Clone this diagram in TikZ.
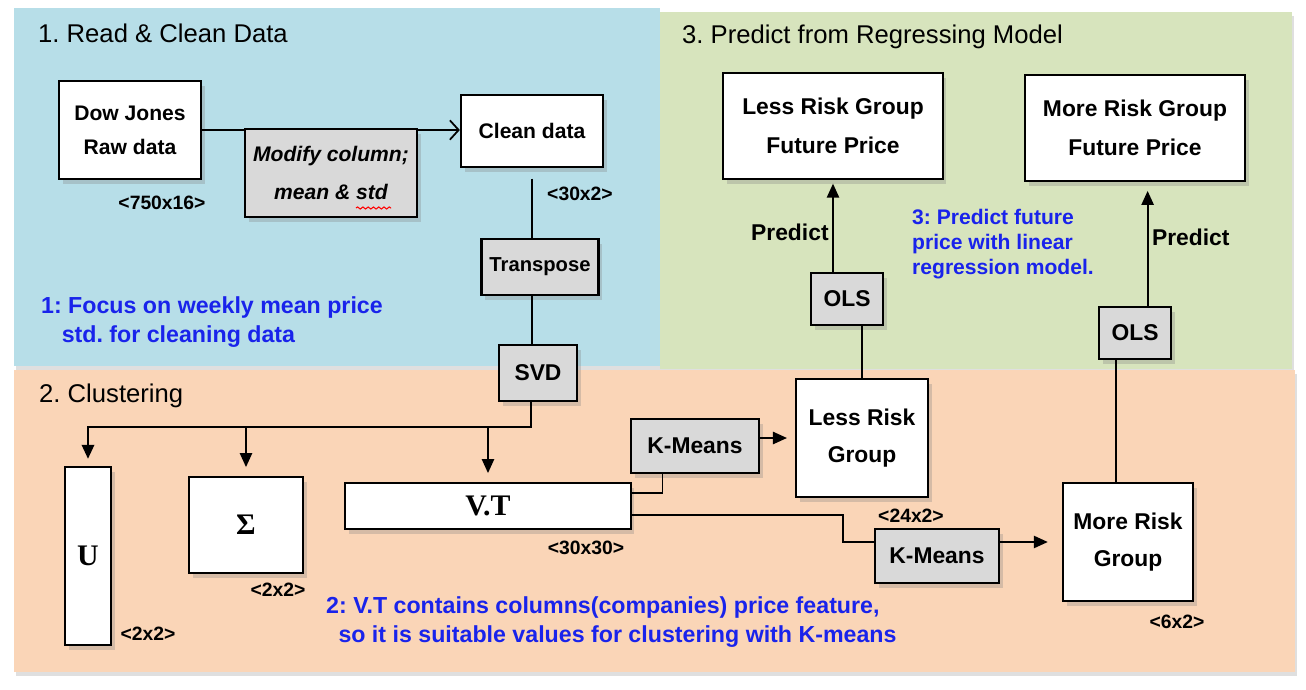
\documentclass[tikz,border=0pt]{standalone}
\usepackage{fontspec}
\setmainfont{Liberation Serif}
\setsansfont{Liberation Sans}
\usepackage{tikz}
\usetikzlibrary{arrows.meta, shadows, calc, decorations.pathmorphing}
\frenchspacing

\definecolor{panelblue}{HTML}{B7DEE8}
\definecolor{panelgreen}{HTML}{D7E4BD}
\definecolor{panelorange}{HTML}{FAD5B7}
\definecolor{boxgray}{HTML}{D9D9D9}
\definecolor{noteblue}{RGB}{25,35,235}

\begin{document}
\begin{tikzpicture}[x=0.02cm, y=-0.02cm,
    panel/.style={drop shadow={shadow xshift=1pt, shadow yshift=-2pt, opacity=.25}},
    box/.style={draw, line width=1.3pt, fill=white, inner sep=0pt, align=center,
        font=\sffamily\bfseries\fontsize{13}{22}\selectfont,
        drop shadow={shadow xshift=2pt, shadow yshift=-3pt, opacity=.3}},
    smallbox/.style={box, font=\sffamily\bfseries\fontsize{12}{19.5}\selectfont},
    opbox/.style={box, fill=boxgray},
    matbox/.style={box, font=\rmfamily\bfseries\fontsize{17}{19}\selectfont},
    dims/.style={font=\sffamily\bfseries\fontsize{11}{13}\selectfont},
    note/.style={text=noteblue, align=left, anchor=west,
        font=\sffamily\bfseries\fontsize{13.2}{16.8}\selectfont},
    title/.style={anchor=base west, font=\sffamily\fontsize{14.6}{16}\selectfont},
    link/.style={line width=1pt},
    arr/.style={link, -{Triangle[length=8pt,width=7pt]}},
]
    \useasboundingbox (0,0) rectangle (1306,690);

    % 1. Read & clean data
    \fill[panelblue, panel] (14,8) rectangle (660,366);
    \node[title] (t1) at (32,42) {1. Read \& Clean Data};

    \node[smallbox, minimum width=2.84cm, minimum height=1.96cm] (dow) at (130,130) {Dow Jones\\Raw data};
    \node[smallbox, minimum width=2.84cm, minimum height=1.44cm] (clean) at (532,131) {Clean data};
    \draw[link, -{Straight Barb[length=5pt,width=11pt]}] (dow.east) -- (dow.east -| clean.west);
    \node[opbox, minimum width=3.44cm, minimum height=1.76cm,
          font=\sffamily\bfseries\itshape\fontsize{12}{21.5}\selectfont] (modify) at (331,173) {Modify column;\\mean \& std};
    \draw[red, line width=.6pt, decorate, decoration={snake, amplitude=.6pt, segment length=3pt}] (356,208) -- (391,208);
    \node[dims] (d750) at (162,203) {<750x16>};
    \node[dims] (d30a) at (580,194) {<30x2>};

    \node[opbox, minimum width=2.34cm, minimum height=1.12cm, font=\sffamily\bfseries\fontsize{11.5}{14}\selectfont] (transpose) at (540,267) {Transpose};
    \draw[link, line width=1.7pt, shorten <=6pt] (clean.south) -- (clean.south |- transpose.north);

    \node[note] (n1) at (35,322) {1: Focus on weekly mean price\\\phantom{1:}std. for cleaning data};

    % 3. Predict from regressing model
    \fill[panelgreen, panel] (660,12) rectangle (1292,369);
    \node[title] (t3) at (676,43) {3. Predict from Regressing Model};

    \node[box, minimum width=4.4cm, minimum height=2.12cm] (lessf) at (833,126) {Less Risk Group\\Future Price};
    \node[box, minimum width=4.4cm, minimum height=2.12cm] (moref) at (1135,128) {More Risk Group\\Future Price};
    \node[opbox, minimum width=1.44cm, minimum height=1.04cm] (ols1) at (847,299) {OLS};
    \node[opbox, minimum width=1.44cm, minimum height=1.04cm] (ols2) at (1135,333) {OLS};

    \draw[arr, shorten >=2pt] (ols1.north -| lessf.south) -- (lessf.south)
        node[pos=.43, left, inner sep=2pt, font=\sffamily\bfseries\fontsize{13}{15}\selectfont] (p1) {Predict};
    \path ($(ols2.north west)!.67!(ols2.north east)$) coordinate (olshead);
    \draw[arr, shorten >=5pt] (olshead) -- (olshead |- moref.south)
        node[pos=.55, right, inner sep=2pt, font=\sffamily\bfseries\fontsize{13}{15}\selectfont] (p2) {Predict};

    \node[note, font=\sffamily\bfseries\fontsize{12}{14.2}\selectfont] (n3) at (906,244) {3: Predict future\\price with linear\\regression model.};

    % 2. Clustering
    \fill[panelorange, panel] (14,370) rectangle (1295,672);
    \node[title] (t2) at (33,402) {2. Clustering};

    \node[opbox, minimum width=1.56cm, minimum height=1.12cm] (svd) at (538,373) {SVD};
    \draw[link, line width=1.7pt] (clean.south |- transpose.south) -- (clean.south |- svd.north);

    \node[matbox, minimum width=0.92cm, minimum height=3.56cm] (u) at (88,556) {U};
    \node[matbox, minimum width=2.28cm, minimum height=1.92cm] (sig) at (246,525) {Σ};
    \node[matbox, minimum width=5.72cm, minimum height=0.92cm] (vt) at (488,506) {V.T};
    \node[dims] (d2a) at (148,634) {<2x2>};
    \node[dims] (d2b) at (278,590) {<2x2>};
    \node[dims] (d30b) at (586,548) {<30x30>};

    \coordinate (fork) at (531,427);
    \draw[arr, line width=1.4pt, shorten >=4pt] (svd.south -| fork) -- (fork) -| (u.north);
    \draw[arr, shorten >=5pt] (fork -| sig.north) -- (sig.north);
    \draw[arr, shorten >=5pt] (fork -| vt.north) -- (vt.north);

    \node[opbox, minimum width=2.56cm, minimum height=1.08cm] (km1) at (695,446) {K-Means};
    \node[opbox, minimum width=2.48cm, minimum height=1.08cm] (km2) at (937,556) {K-Means};
    \node[box, minimum width=2.64cm, minimum height=2.36cm, font=\sffamily\bfseries\fontsize{13}{21.5}\selectfont] (less) at (862,438) {Less Risk\\Group};
    \node[box, minimum width=2.6cm, minimum height=2.36cm, font=\sffamily\bfseries\fontsize{13}{21.5}\selectfont] (more) at (1128,542) {More Risk\\Group};
    \node[dims] (d24) at (911,516) {<24x2>};
    \node[dims] (d6) at (1177,622) {<6x2>};

    \draw[link] ($(vt.east)+(0,-13)$) -| ($(km1.south west)!.25!(km1.south east)$);
    \draw[link] ($(vt.east)+(0,9)$) -- ++(211,0) |- ($(km2.north west)!.25!(km2.south west)$);
    \draw[arr, shorten >=4.5pt] (km1.east |- less.west) -- (less.west);
    \draw[arr, shorten >=8pt] (km2.east |- more.west) -- (more.west);

    \draw[link] (less.north) -- (less.north |- ols1.south);
    \path ($(ols2.south west)!.24!(ols2.south east)$) coordinate (olsfoot);
    \draw[link] (olsfoot) -- (olsfoot |- more.north);

    \node[note] (n2) at (320,622) {2: V.T contains columns(companies) price feature,\\\hspace*{7pt}so it is suitable values for clustering with K-means};
\end{tikzpicture}
\end{document}
